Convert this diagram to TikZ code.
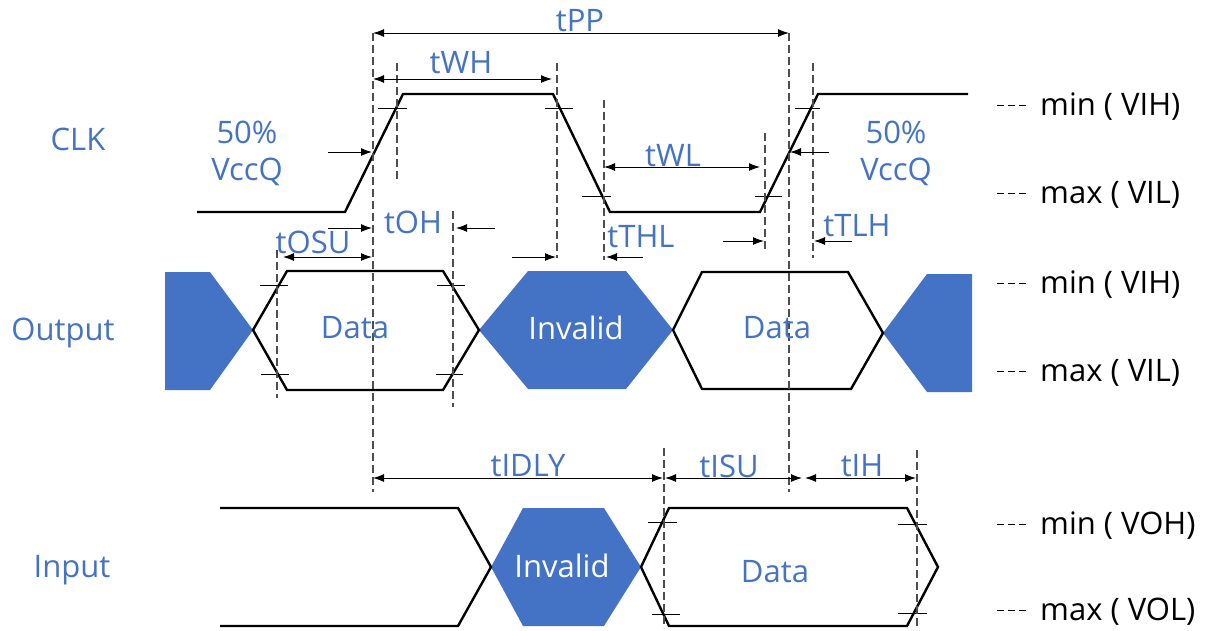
\documentclass[tikz,border=0pt]{standalone}
\usepackage{fontspec}
\setmainfont{Open Sans}
\usetikzlibrary{calc,arrows.meta}
\definecolor{lblue}{HTML}{4472C4}
\definecolor{gline}{HTML}{4D4D4D}

\tikzset{
  sig/.style={line width=2.4pt, line join=miter},
  tick/.style={line width=1pt},
  guide/.style={color=gline, line width=1.2pt, dash pattern=on 8pt off 4pt},
  dim/.style={line width=1pt, >={Latex[length=11pt,width=8pt]}},
  lbl/.style={text=lblue, inner sep=0pt},
  lvl/.style={text=black, inner sep=0pt, anchor=west},
  bad/.style={fill=lblue, draw=none},
}

\begin{document}
\begin{tikzpicture}[x=1pt,y=-1pt,font=\fontsize{31}{37}\selectfont]
        \useasboundingbox (0,0) rectangle (1208,630);

        % blue (invalid) areas
        \fill[bad] (165,272) -- (210,272) -- (253,330) -- (210,390) -- (165,390) -- cycle;
        \fill[bad] (479,330) -- (528,271) -- (626,271) -- (673,330) -- (626,389) -- (528,389) -- cycle;
        \fill[bad] (883,333) -- (927,274) -- (972,274) -- (972,392) -- (927,392) -- cycle;
        \fill[bad] (491,567) -- (523,508) -- (604,508) -- (641,567) -- (604,626) -- (523,626) -- cycle;

        % signals
        \draw[sig] (197,212) -- (345,212) -- (403,94) -- (553,94) -- (610,212) -- (760,212) -- (818,94) -- (968,94);
        \draw[sig] (253,330) -- (287,271) -- (443,271) -- (479,330) -- (443,390) -- (287,390) -- cycle;
        \draw[sig] (673,330) -- (702,272) -- (848,272) -- (883,333) -- (851,389) -- (702,389) -- cycle;
        \draw[sig] (220,508) -- (458,508) -- (491,567) -- (458,626) -- (220,626);
        \draw[sig] (641,567) -- (669,508) -- (907,508) -- (938,567) -- (907,626) -- (669,626) -- cycle;

        % level ticks
        \draw[tick] (378,108) -- (407,108);
        \draw[tick] (545,108) -- (573,108);
        \draw[tick] (795,108) -- (820,108);
        \draw[tick] (582,196) -- (611,196);
        \draw[tick] (755,196) -- (782,196);
        \draw[tick] (260,285) -- (288,285);
        \draw[tick] (437,285) -- (465,285);
        \draw[tick] (261,374) -- (289,374);
        \draw[tick] (436,374) -- (463,374);
        \draw[tick] (648,522) -- (677,522);
        \draw[tick] (898,524) -- (927,524);
        \draw[tick] (652,614) -- (680,614);
        \draw[tick] (898,613) -- (927,613);

        % guide lines
        \draw[guide] (373,33) -- (373,492);
        \draw[guide] (789,33) -- (789,492);
        \draw[guide] (397,63) -- (397,183);
        \draw[guide] (557,63) -- (557,258);
        \draw[guide] (813,63) -- (813,258);
        \draw[guide] (604,100) -- (604,260);
        \draw[guide] (765,133) -- (765,252);
        \draw[guide] (453,211) -- (453,407);
        \draw[guide] (277,250) -- (277,398);
        \draw[guide] (664,448) -- (664,628);
        \draw[guide] (917,450) -- (917,628);

        % timing arrows
        \draw[dim,<->] (373,33) -- (789,33);
        \draw[dim,<->] (373,79) -- (552,79);
        \draw[dim,<->] (604,167) -- (760,167);
        \draw[dim,->] (328,152) -- (372,152);
        \draw[dim,->] (829,152) -- (790,152);
        \draw[dim,->] (328,228) -- (372,228);
        \draw[dim,->] (495,228) -- (456,228);
        \draw[dim,<->] (283,257) -- (372,257);
        \draw[dim,->] (512,257) -- (556,257);
        \draw[dim,->] (643,257) -- (606,257);
        \draw[dim,->] (723,241) -- (764,241);
        \draw[dim,->] (852,241) -- (814,241);
        \draw[dim,<->] (373,478) -- (663,478);
        \draw[dim,<->] (665,478) -- (802,478);
        \draw[dim,<->] (805,478) -- (916,478);

        % signal names
        \node[lbl] (clk) at (78,139) {CLK};
        \node[lbl] (out) at (63,333) {Output};
        \node[lbl] (in) at (72,570) {Input};

        % timing names
        \node[lbl] (tpp) at (580,21) {tPP};
        \node[lbl] (twh) at (461,63) {tWH};
        \node[lbl] (twl) at (673,156) {tWL};
        \node[lbl] (toh) at (413,222) {tOH};
        \node[lbl] (tosu) at (313,242) {tOSU};
        \node[lbl] (tthl) at (641,237) {tTHL};
        \node[lbl] (ttlh) at (857,226) {tTLH};
        \node[lbl] (tidly) at (528,466) {tIDLY};
        \node[lbl] (tisu) at (729,466) {tISU};
        \node[lbl] (tih) at (862,466) {tIH};
        \node[lbl,align=center] (vl) at (247,153) {50\%\\VccQ};
        \node[lbl,align=center] (vr) at (896,153) {50\%\\VccQ};

        % data names
        \node[lbl] (d1) at (355,328) {Data};
        \node[lbl,text=white] (inv1) at (576,328) {Invalid};
        \node[lbl] (d2) at (777,328) {Data};
        \node[lbl,text=white] (inv2) at (562,566) {Invalid};
        \node[lbl] (d3) at (775,572) {Data};

        % levels
        \foreach \y/\t in {107/min ( VIH), 195/max ( VIL), 285/min ( VIH), 373/max ( VIL), 526/min ( VOH), 612/max ( VOL)}
        {
          \draw[tick,dash pattern=on 7pt off 4pt] (997,\y-2) -- (1026,\y-2);
          \node[lvl] at (1040,\y) {\t};
        }
    \end{tikzpicture}
\end{document}
